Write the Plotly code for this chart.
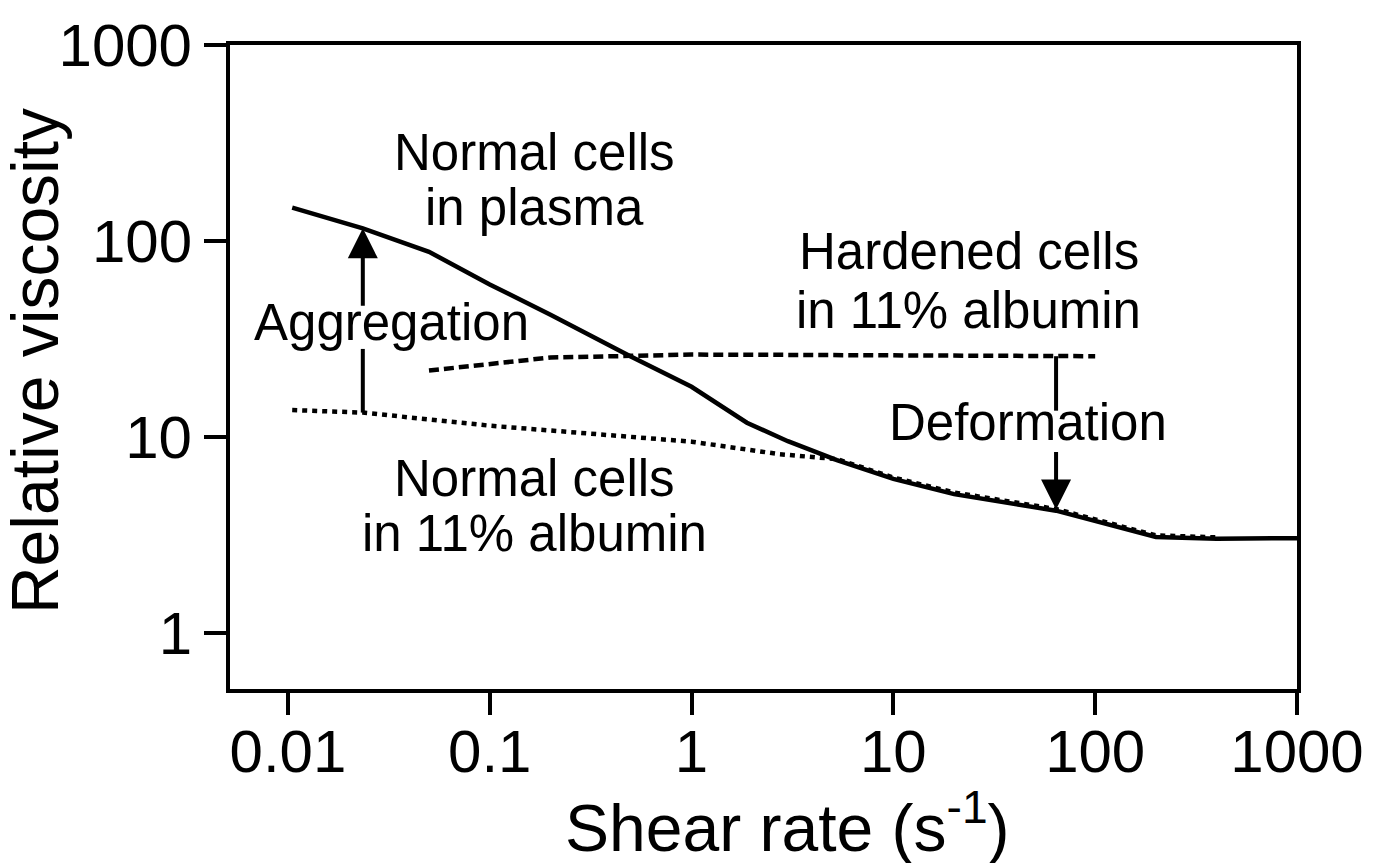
import math
import plotly.graph_objects as go

# ---- data ----
plasma_x = [0.0105, 0.0235, 0.05, 0.1, 0.2, 0.5, 1, 1.88, 3, 5.25, 10, 20, 64, 150, 200, 400, 1000]
plasma_y = [148, 116, 88, 60, 42, 25.7, 18, 11.8, 9.5, 7.6, 6.1, 5.1, 4.2, 3.35, 3.08, 3.02, 3.04]

albumin_x = [0.0105, 0.0235, 0.1, 0.5, 1, 2.74, 5.25, 10, 20, 64, 150, 200, 400]
albumin_y = [13.7, 13.3, 11.4, 10.0, 9.45, 8.15, 7.7, 6.2, 5.2, 4.28, 3.42, 3.14, 3.07]

hardened_x = [0.05, 0.1, 0.2, 0.5, 1, 3, 10, 100]
hardened_y = [21.8, 23.5, 25.4, 25.9, 26.3, 26.2, 26.0, 25.8]

x_tickvals = [0.01, 0.1, 1, 10, 100, 1000]
x_ticktext = ["0.01", "0.1", "1", "10", "100", "1000"]
y_tickvals = [1, 10, 100, 1000]
y_ticktext = ["1", "10", "100", "1000"]

# arrows: x position, tail start, gap start, gap end, tip
agg_x = 0.0235
agg_y = [13.3, 28.1, 45.8, 116]
def_x = 64
def_y = [25.8, 13.6, 8.53, 4.26]

# labels: (text, x value at centre, y pixel of centre)
labels = [
    ("Normal cells", 0.1665, 146.5),
    ("in plasma", 0.1665, 202.3),
    ("Hardened cells", 23.6, 247.0),
    ("in 11% albumin", 23.6, 306.6),
    ("Aggregation", 0.0325, 318.3),
    ("Deformation", 46.6, 420.0),
    ("Normal cells", 0.1665, 476.6),
    ("in 11% albumin", 0.1665, 531.3),
]

FONT = "Liberation Sans, Arial, Helvetica, sans-serif"
LW = 4.5

fig = go.Figure()
fig.add_trace(go.Scatter(x=plasma_x, y=plasma_y, mode="lines",
                         line=dict(color="black", width=LW)))
fig.add_trace(go.Scatter(x=albumin_x, y=albumin_y, mode="lines",
                         line=dict(color="black", width=LW, dash="5px,5px")))
fig.add_trace(go.Scatter(x=hardened_x, y=hardened_y, mode="lines",
                         line=dict(color="black", width=LW, dash="10px,5px")))
# arrow tails
fig.add_trace(go.Scatter(x=[agg_x, agg_x], y=agg_y[0:2], mode="lines",
                         line=dict(color="black", width=4)))
fig.add_trace(go.Scatter(x=[def_x, def_x], y=def_y[0:2], mode="lines",
                         line=dict(color="black", width=4)))

PLOT_TOP, PLOT_BOTTOM = 38, 689
YMIN, YMAX = -0.287, 3.0

def py_to_log(py):
    return YMAX - (py - PLOT_TOP) / (PLOT_BOTTOM - PLOT_TOP) * (YMAX - YMIN)

annotations = []
# arrow heads
for ax_x, ys in ((agg_x, agg_y), (def_x, def_y)):
    annotations.append(dict(x=math.log10(ax_x), y=math.log10(ys[3]),
                            ax=math.log10(ax_x), ay=math.log10(ys[2]),
                            xref="x", yref="y", axref="x", ayref="y", text="",
                            showarrow=True, arrowhead=2, arrowsize=1.5, arrowwidth=4,
                            arrowcolor="black", standoff=0))
for text, lx, ypix in labels:
    annotations.append(dict(x=math.log10(lx), y=py_to_log(ypix), xref="x", yref="y",
                            text=text, showarrow=False, xanchor="center", yanchor="middle",
                            font=dict(family=FONT, size=51, color="black")))

# axis titles
annotations.append(dict(x=0.5 + (787 - 763.5) / 1067, y=-(824 - 689) / 651,
                        xref="paper", yref="paper", showarrow=False,
                        text="Shear rate (s<sup>-1</sup>)", xanchor="center", yanchor="middle",
                        font=dict(family=FONT, size=66, color="black")))
annotations.append(dict(x=(35 - 230) / 1067, y=(689 - 357.5) / 651,
                        xref="paper", yref="paper", showarrow=False, textangle=-90,
                        text="Relative viscosity", xanchor="center", yanchor="middle",
                        font=dict(family=FONT, size=66, color="black")))

axis_common = dict(showline=True, linewidth=4, linecolor="black", mirror=True,
                   ticks="outside", ticklen=22, tickwidth=4, tickcolor="black",
                   showgrid=False, zeroline=False,
                   tickfont=dict(family=FONT, size=60, color="black"))

fig.update_layout(
    width=1376, height=863,
    margin=dict(l=230, r=79, t=38, b=174),
    paper_bgcolor="white", plot_bgcolor="white",
    showlegend=False,
    xaxis=dict(type="log", range=[-2.287, 3.0], tickvals=x_tickvals, ticktext=x_ticktext,
               ticklabelstandoff=-15, **axis_common),
    yaxis=dict(type="log", range=[YMIN, YMAX], tickvals=y_tickvals, ticktext=y_ticktext,
               **axis_common),
    annotations=annotations,
)

fig.write_html("out.html")
